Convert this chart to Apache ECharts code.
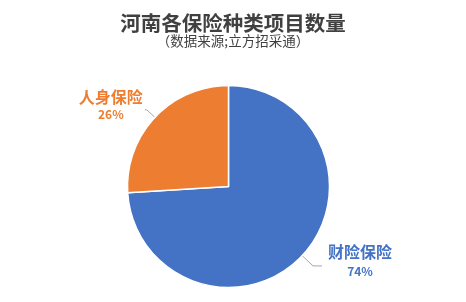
<!DOCTYPE html>
<html>
<head>
<meta charset="utf-8">
<style>
  html, body { margin: 0; padding: 0; background: #ffffff; }
  #chart { width: 466px; height: 302px; }
</style>
<script src="https://cdn.jsdelivr.net/npm/echarts@6/dist/echarts.min.js"></script>
</head>
<body>
<div id="chart"></div>
<script>
// Insurance categories and their share of projects (percent)
const categories = ['财险保险', '人身保险'];
const shares = [74, 26];
const sliceColors = ['#4472C4', '#ED7D31'];

const titleText = '河南各保险种类项目数量';
const subtitleText = '（数据来源;立方招采通）';

const cjkFont = '"Noto Sans CJK SC", sans-serif';

// leader line and label box tuning per slice
const leaderStyle = [
  { length: 15, length2: 9, gap: 6, padding: [0, 0, 8, 0], pctLine: 20 },
  { length: 11, length2: 2, gap: 2, padding: [0, 0, 10, 0], pctLine: 16 }
];

const chart = echarts.init(document.getElementById('chart'), null, { renderer: 'canvas' });

const pieData = categories.map((name, i) => ({
  name: name,
  value: shares[i],
  itemStyle: { color: sliceColors[i] },
  labelLine: { length: leaderStyle[i].length, length2: leaderStyle[i].length2 },
  label: {
    distanceToLabelLine: leaderStyle[i].gap,
    padding: leaderStyle[i].padding,
    rich: {
      n: { color: sliceColors[i], fontSize: 16, fontWeight: 'bold', align: 'center', lineHeight: 19,
           fontFamily: cjkFont },
      p: { color: sliceColors[i], fontSize: 12, fontWeight: 'bold', align: 'center',
           lineHeight: leaderStyle[i].pctLine, fontFamily: cjkFont }
    }
  }
}));

chart.setOption({
  animation: false,
  backgroundColor: '#ffffff',
  title: {
    text: titleText,
    subtext: subtitleText,
    left: 'center',
    top: 8,
    itemGap: 1,
    textStyle: {
      fontSize: 20.5,
      fontWeight: 'bold',
      color: '#404040',
      fontFamily: cjkFont
    },
    subtextStyle: {
      fontSize: 13.5,
      color: '#404040',
      fontFamily: cjkFont
    }
  },
  series: [{
    type: 'pie',
    center: [228.5, 186.5],
    radius: [0, 101],
    startAngle: 90,
    clockwise: true,
    itemStyle: { borderColor: '#ffffff', borderWidth: 1.5 },
    label: {
      show: true,
      position: 'outside',
      formatter: function (p) {
        return '{n|' + p.name + '}\n{p|' + p.value + '%}';
      }
    },
    labelLine: {
      show: true,
      lineStyle: { color: '#a6a6a6', width: 1 }
    },
    data: pieData
  }]
});
</script>
</body>
</html>
